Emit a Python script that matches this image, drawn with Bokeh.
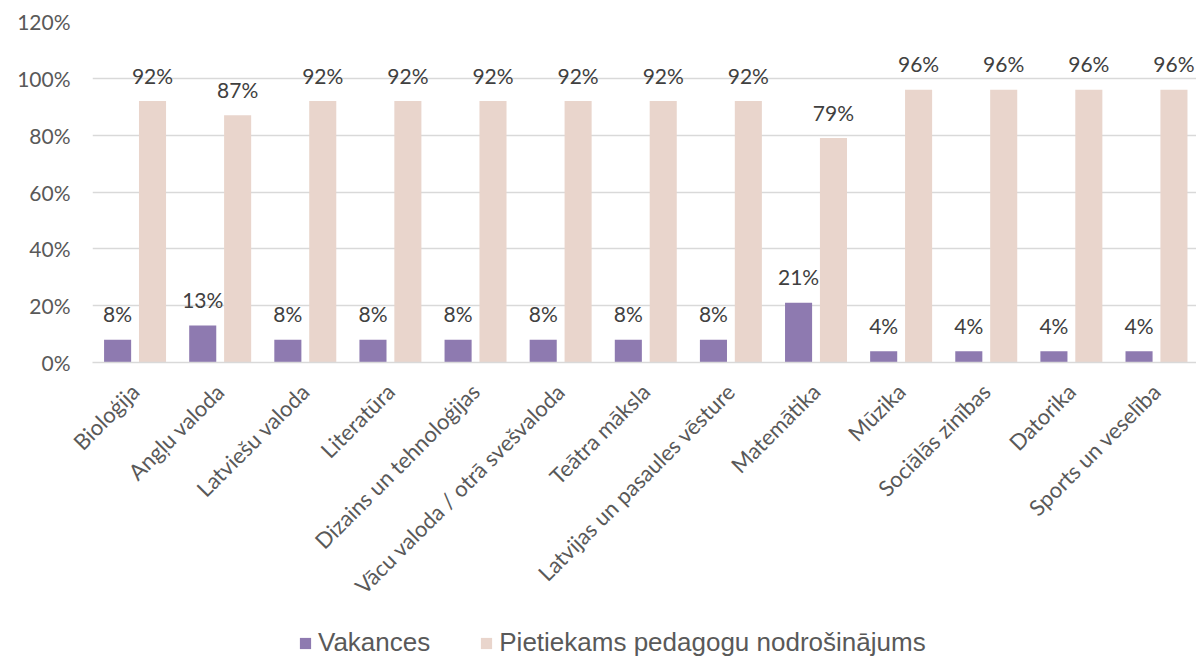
import math
from bokeh.plotting import figure
from bokeh.layouts import column
from bokeh.models import (Range1d, FixedTicker, NumeralTickFormatter, Legend, LegendItem,
                          ColumnDataSource)
from bokeh.core.properties import value
from bokeh.embed import file_html
from bokeh.resources import INLINE

categories = ["Bioloģija", "Angļu valoda", "Latviešu valoda", "Literatūra",
              "Dizains un tehnoloģijas", "Vācu valoda / otrā svešvaloda", "Teātra māksla",
              "Latvijas un pasaules vēsture", "Matemātika", "Mūzika", "Sociālās zinības",
              "Datorika", "Sports un veselība"]
vakances = [8, 13, 8, 8, 8, 8, 8, 8, 21, 4, 4, 4, 4]
pietiekams = [92, 87, 92, 92, 92, 92, 92, 92, 79, 96, 96, 96, 96]
series_names = ["Vakances", "Pietiekams pedagogu nodrošinājums"]
y_ticks = [0, 0.2, 0.4, 0.6, 0.8, 1.0, 1.2]

PURPLE = "#8E7AB0"
PINK = "#E9D5CC"
FONT = "Lato"

idx = list(range(len(categories)))
off = 0.205
bw = 0.318

src_a = ColumnDataSource(dict(x=[i - off for i in idx], y=[v / 100 for v in vakances],
                              lab=[f"{v}%" for v in vakances]))
src_b = ColumnDataSource(dict(x=[i + off for i in idx], y=[v / 100 for v in pietiekams],
                              lab=[f"{v}%" for v in pietiekams]))

p = figure(width=1196, height=628, output_backend="svg", toolbar_location=None,
           x_range=Range1d(-0.5, 12.47), y_range=Range1d(0, 1.2),
           min_border_left=92, min_border_right=0, min_border_top=21, min_border_bottom=266)
p.outline_line_color = None
p.background_fill_color = "white"
p.border_fill_color = "white"

r1 = p.vbar(x="x", top="y", width=bw, source=src_a, fill_color=PURPLE, line_color=None)
r2 = p.vbar(x="x", top="y", width=bw, source=src_b, fill_color=PINK, line_color=None)

for src in (src_a, src_b):
    p.text(x="x", y="y", text="lab", source=src, text_align="center",
           text_baseline="alphabetic", y_offset=-26, text_font_size="21px",
           text_color="#404040", text_font=value(FONT))

# y axis
ya = p.yaxis[0]
ya.ticker = FixedTicker(ticks=y_ticks)
ya.formatter = NumeralTickFormatter(format="0%")
ya.axis_line_color = None
ya.major_tick_line_color = None
ya.minor_tick_line_color = None
ya.major_tick_in = 0
ya.major_tick_out = 0
ya.major_label_standoff = 22
ya.major_label_text_font = FONT
ya.major_label_text_font_size = "21px"
ya.major_label_text_color = "#595959"

p.ygrid.ticker = FixedTicker(ticks=y_ticks)
p.ygrid.grid_line_color = "#D9D9D9"
p.ygrid.grid_line_width = 1.5
p.xgrid.grid_line_color = None

# x axis
xa = p.xaxis[0]
xa.ticker = FixedTicker(ticks=idx)
xa.major_label_overrides = {i: c for i, c in zip(idx, categories)}
xa.major_label_orientation = math.pi / 4
xa.axis_line_color = "#D9D9D9"
xa.axis_line_width = 1.5
xa.major_tick_line_color = None
xa.minor_tick_line_color = None
xa.major_tick_in = 0
xa.major_tick_out = 0
xa.major_label_standoff = 25
xa.major_label_text_font = FONT
xa.major_label_text_font_size = "22px"
xa.major_label_text_color = "#595959"

# legend strip (its frame is aligned with the chart's frame by the column layout)
lf = figure(width=1196, height=30, output_backend="svg", toolbar_location=None,
            x_range=Range1d(0, 1), y_range=Range1d(0, 1),
            x_axis_location=None, y_axis_location=None,
            min_border=0)
lf.outline_line_color = None
lf.xgrid.grid_line_color = None
lf.ygrid.grid_line_color = None
dummy = dict(x=[-100], top=[0])
d1 = lf.vbar(x="x", top="top", width=0.1, source=ColumnDataSource(dummy),
             fill_color=PURPLE, line_color=None)
d2 = lf.vbar(x="x", top="top", width=0.1, source=ColumnDataSource(dummy),
             fill_color=PINK, line_color=None)
legend = Legend(items=[LegendItem(label=series_names[0], renderers=[d1]),
                       LegendItem(label=series_names[1], renderers=[d2])],
                orientation="horizontal", location=(206, 0),
                glyph_width=14, glyph_height=14, label_standoff=6, spacing=49,
                padding=0, margin=0, border_line_color=None, background_fill_alpha=0,
                label_text_font="Liberation Sans", label_text_font_size="26px",
                label_text_color="#595959")
lf.add_layout(legend, "center")

layout = column(p, lf, spacing=0)
open("out.html", "w").write(file_html(layout, INLINE))
